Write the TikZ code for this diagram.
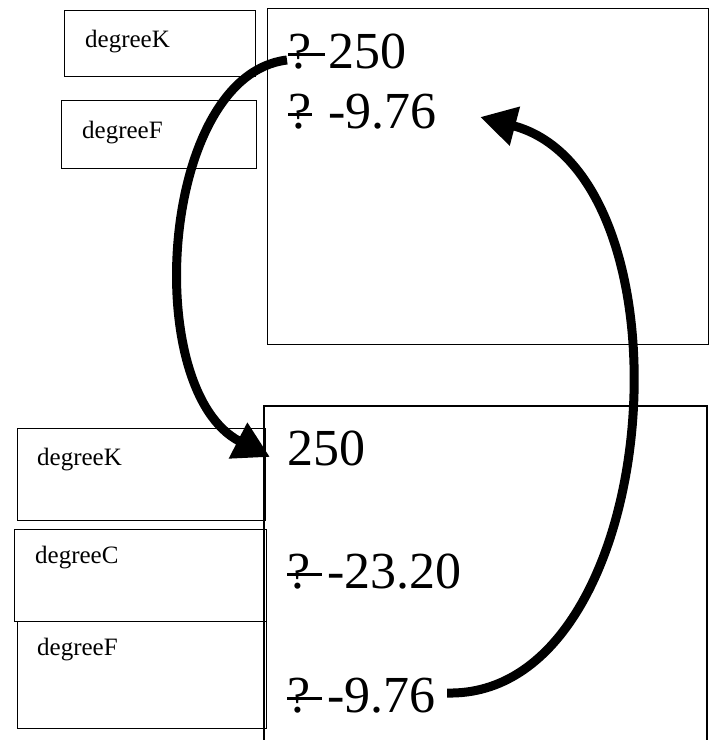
\documentclass[tikz,border=0pt]{standalone}
\usepackage{fontspec}
\setmainfont{Liberation Serif}
\usetikzlibrary{arrows.meta, calc}

% a question mark with a bar through it, as the picture prints it
\newcommand{\qbar}[1]{\makebox[0pt][l]{\rule[0.23em]{#1}{0.05em}}?}

\begin{document}
\begin{tikzpicture}[
  x=1pt, y=-1pt,
  varbox/.style={draw=black, line width=1.4pt, inner sep=0pt, anchor=north west},
  varname/.style={anchor=base west, inner sep=0pt, font=\fontsize{25}{28}\selectfont},
  val/.style={anchor=base west, inner sep=0pt, font=\fontsize{52}{58}\selectfont},
  flow/.style={-{Triangle[length=36pt, width=38pt]}, line width=9pt}
]
\useasboundingbox (0,0) rectangle (712,740);

% top: before the call
\node[varbox, minimum width=191pt, minimum height=66pt] (kTop) at (64,10) {};
\node[varbox, minimum width=195pt, minimum height=68pt] (fTop) at (61,100) {};
\node[varname] (kTopName) at ($(kTop.north west)+(21,37)$) {degreeK};
\node[varname] (fTopName) at ($(fTop.north west)+(21,38)$) {degreeF};
\node[varbox, minimum width=441pt, minimum height=336pt] (memTop) at (267,8) {};
\node[val] (t1) at (288,68) {\qbar{0.71em} 250};
\node[val] (t2) at (288,128) {\qbar{0.46em} -9.76};

% bottom: inside the call
\node[varbox, minimum width=248pt, minimum height=92pt] (kBot) at (17,428) {};
\node[varbox, minimum width=252pt, minimum height=92pt] (cBot) at (14,529) {};
\node[varbox, minimum width=249pt, minimum height=107pt] (fBot) at (17,621) {};
\node[varname] (kBotName) at ($(kBot.north west)+(20,37)$) {degreeK};
\node[varname] (cBotName) at ($(cBot.north west)+(21,34)$) {degreeC};
\node[varname] (fBotName) at ($(fBot.north west)+(20,34)$) {degreeF};
\draw[line width=1.4pt] (264,745) -- (264,406) -- (707,406) -- (707,745);
\node[val] (b1) at (287,465) {250};
\node[val] (b2) at (287,588) {\qbar{0.67em} -23.20};
\node[val] (b3) at (287,712) {\qbar{0.67em} -9.76};

% the two hand-drawn arrows
\draw[flow] ($(t1.base west)+(-1,-8)$) .. controls (160,75) and (140,390) .. ($(b1.base west)+(-17,-8)$);
\draw[flow] ($(b3.base east)+(11,-19)$) .. controls (665,698) and (700,175) .. ($(t2.base east)+(43,-11)$);
\end{tikzpicture}
\end{document}
